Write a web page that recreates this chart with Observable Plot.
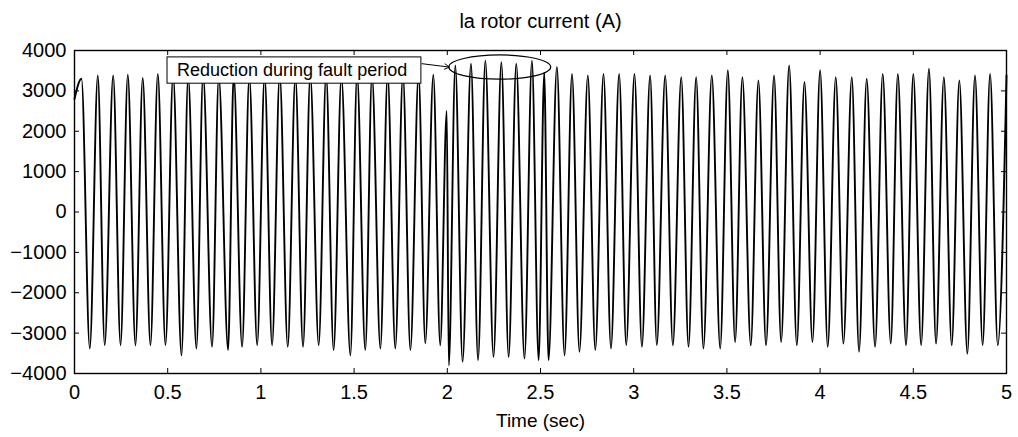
<!DOCTYPE html>
<html><head><meta charset="utf-8">
<script src="https://cdn.jsdelivr.net/npm/d3@7"></script>
<script src="https://cdn.jsdelivr.net/npm/@observablehq/plot@0.6"></script>
<style>
html,body{margin:0;padding:0;background:#fff;}
#chart svg{display:block;}
</style></head><body><div id="chart"></div>
<script>
// Extrema of the rotor current (time in s, current in A)
const timeSec = [0, 0.0375, 0.082, 0.125, 0.162, 0.2075, 0.247, 0.286, 0.327, 0.366, 0.4075,
  0.447, 0.488, 0.529, 0.574, 0.610, 0.654, 0.690, 0.738, 0.774, 0.824,
  0.854, 0.899, 0.938, 0.980, 1.020, 1.060, 1.101, 1.144, 1.185, 1.226,
  1.265, 1.310, 1.350, 1.390, 1.432, 1.480, 1.516, 1.560, 1.596, 1.641,
  1.680, 1.721, 1.762, 1.802, 1.846, 1.882, 1.925, 1.962, 1.997, 2.008,
  2.043, 2.082, 2.127, 2.165, 2.204, 2.248, 2.290, 2.329, 2.370, 2.414,
  2.454, 2.490, 2.520, 2.543, 2.588, 2.629, 2.669, 2.709, 2.754, 2.794,
  2.838, 2.878, 2.922, 2.960, 3.004, 3.044, 3.088, 3.124, 3.169, 3.210,
  3.255, 3.294, 3.335, 3.374, 3.419, 3.464, 3.505, 3.544, 3.583, 3.628,
  3.669, 3.710, 3.753, 3.791, 3.834, 3.875, 3.916, 3.959, 4.000, 4.041,
  4.084, 4.125, 4.170, 4.209, 4.250, 4.295, 4.336, 4.379, 4.417, 4.461,
  4.500, 4.542, 4.584, 4.622, 4.664, 4.706, 4.747, 4.790, 4.831, 4.872,
  4.912, 4.953, 5.000];
const currentA = [2800, 3300, -3380, 3380, -3300, 3380, -3300, 3400, -3300, 3320, -3300,
  3420, -3300, 3380, -3550, 3350, -3380, 3400, -3340, 3350, -3420,
  3400, -3340, 3350, -3300, 3380, -3300, 3400, -3340, 3350, -3340,
  3380, -3300, 3400, -3420, 3350, -3550, 3400, -3420, 3380, -3380,
  3400, -3380, 3400, -3420, 3410, -3250, 3400, -3300, 2500, -3800,
  3630, -3710, 3670, -3670, 3750, -3590, 3710, -3590, 3670, -3630,
  3750, -3670, 3450, -3670, 3590, -3550, 3420, -3460, 3380, -3420,
  3420, -3380, 3420, -3300, 3420, -3340, 3380, -3300, 3380, -3300,
  3340, -3340, 3340, -3380, 3380, -3380, 3510, -3220, 3340, -3300,
  3260, -3300, 3380, -3220, 3630, -3300, 3220, -3220, 3510, -3340,
  3340, -3260, 3340, -3460, 3300, -3340, 3420, -3260, 3420, -3300,
  3420, -3300, 3550, -3260, 3340, -3300, 3260, -3510, 3380, -3300,
  3420, -3300, 3380];
const xTicks = [0, 0.5, 1, 1.5, 2, 2.5, 3, 3.5, 4, 4.5, 5];
const yTicks = [-4000, -3000, -2000, -1000, 0, 1000, 2000, 3000, 4000];
const titleText = "la rotor current (A)";
const xLabelText = "Time (sec)";
const calloutText = "Reduction during fault period";

const data = timeSec.map((t, k) => ({t, a: currentA[k]}));

const W = 1018, H = 437, mL = 74, mR = 12, mT = 50, mB = 64;
const fw = W - mL - mR, fh = H - mT - mB;
const font = "'Liberation Sans', Arial, Helvetica, sans-serif";
const fmtY = d => d < 0 ? "\u2212" + Math.abs(d) : String(d);

// annotation geometry (data coordinates)
const box = {x1: 0.499, x2: 1.861, y1: 3178, y2: 3829};
const ell = {cx: 2.284, cy: 3577, rx: 0.2735, ry: 300};

const plot = Plot.plot({
  width: W, height: H,
  marginLeft: mL, marginRight: mR, marginTop: mT, marginBottom: mB,
  style: {fontFamily: font, fontSize: "20px", background: "white", color: "black", overflow: "visible"},
  x: {domain: [0, 5], label: null},
  y: {domain: [-4000, 4000], label: null},
  marks: [
    Plot.line(data, {x: "t", y: "a", curve: "monotone-x", stroke: "black", strokeWidth: 1.9}),
    Plot.tickX(xTicks, {x: d => d, insetTop: fh - 5, stroke: "black"}),
    Plot.tickX(xTicks, {x: d => d, insetBottom: fh - 5, stroke: "black"}),
    Plot.tickY(yTicks, {y: d => d, insetRight: fw - 5, stroke: "black"}),
    Plot.tickY(yTicks, {y: d => d, insetLeft: fw - 5, stroke: "black"}),
    Plot.frame({stroke: "black", strokeWidth: 1.4}),
    Plot.axisX(xTicks, {tickSize: 0, tickPadding: 11, tickFormat: d => String(d), label: null, fontSize: 20}),
    Plot.axisY(yTicks, {tickSize: 0, tickPadding: 8, tickFormat: fmtY, label: null, fontSize: 20}),
    Plot.text([xLabelText], {text: d => d, frameAnchor: "bottom", dy: 53, fontSize: 19}),
    Plot.text([titleText], {text: d => d, frameAnchor: "top", dy: -37, fontSize: 20}),
    // callout box
    Plot.rect([box], {x1: "x1", x2: "x2", y1: "y1", y2: "y2", fill: "white", stroke: "black", strokeWidth: 1}),
    Plot.text([calloutText], {text: d => d, x: () => 0.55, y: () => 3507, textAnchor: "start", fontSize: 18}),
    Plot.arrow([0], {x1: () => 1.864, y1: () => 3673, x2: () => 2.011, y2: () => 3589, stroke: "black", strokeWidth: 1, headLength: 8}),
    Plot.dot([ell], {x: "cx", y: "cy", render: (I, scales, values) => {
      const g = d3.create("svg:g");
      const cx = scales.x(ell.cx), cy = scales.y(ell.cy);
      g.append("ellipse")
        .attr("cx", cx).attr("cy", cy)
        .attr("rx", scales.x(ell.cx + ell.rx) - cx)
        .attr("ry", cy - scales.y(ell.cy + ell.ry))
        .attr("fill", "none").attr("stroke", "black").attr("stroke-width", 1.2);
      return g.node();
    }})
  ]
});
document.getElementById("chart").appendChild(plot);
</script>
</body></html>
